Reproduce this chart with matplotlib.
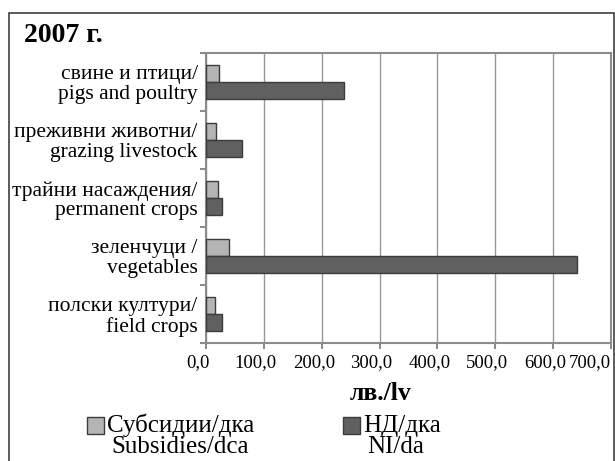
import matplotlib.pyplot as plt
from matplotlib.patches import Rectangle
from matplotlib.transforms import ScaledTranslation
import numpy as np

plt.rcParams['font.family'] = ['Liberation Serif', 'DejaVu Serif']

# categories listed bottom to top
categories = ["полски култури/\nfield crops",
              "зеленчуци /\nvegetables",
              "трайни насаждения/\npermanent crops",
              "преживни животни/\ngrazing livestock",
              "свине и птици/\npigs and poultry"]
subsidies = [16, 40, 21, 18, 22]
net_income = [27, 642, 27, 63, 239]
xticks = [0, 100, 200, 300, 400, 500, 600, 700]
xtick_labels = ["0,0", "100,0", "200,0", "300,0", "400,0", "500,0", "600,0", "700,0"]
legend_labels = [("Субсидии/дка", "Subsidies/dca"), ("НД/дка", "NI/da")]

W, H = 615, 461
fig = plt.figure(figsize=(W / 100, H / 100), dpi=100)
ax = fig.add_axes([206 / W, 1 - 343 / H, (611 - 206) / W, (343 - 53) / H])

light = "#b4b4b4"
dark = "#606060"
edge = "#3c3c3c"

y = np.arange(len(categories))
h = 0.29
ax.barh(y + h / 2, subsidies, height=h, color=light, edgecolor=edge, linewidth=1, zorder=3)
ax.barh(y - h / 2, net_income, height=h, color=dark, edgecolor=edge, linewidth=1, zorder=3)

ax.set_xlim(0, 700)
ax.set_ylim(-0.5, len(categories) - 0.5)
ax.set_xticks(xticks)
ax.set_xticklabels(xtick_labels, fontsize=13.5)
ax.set_yticks(y)
ax.set_yticklabels(categories, fontsize=15.5, linespacing=1.05)
ax.set_yticks(np.arange(-0.5, len(categories)), minor=True)
ax.tick_params(axis='y', which='major', length=0, pad=6)
ax.tick_params(axis='y', which='minor', length=4, color="#8c8c8c", width=1.5, direction='out')
ax.tick_params(axis='x', length=4, color="#8c8c8c", width=1.5, direction='out', pad=4)
ax.grid(axis='x', color="#999999", linewidth=1, zorder=0)
for s in ax.spines.values():
    s.set_color("#8c8c8c")
    s.set_linewidth(1.5)

# tick labels sit a little left of their ticks; last one kept inside
shift = ScaledTranslation(-8 / 100, 0, fig.dpi_scale_trans)
labels = ax.get_xticklabels()
for lab in labels[:-1]:
    lab.set_transform(lab.get_transform() + shift)
labels[-1].set_ha('right')

ax.set_xlabel("лв./lv", fontsize=18.5, fontweight='bold')
ax.xaxis.set_label_coords(0.432, -0.135)
ax.xaxis.label.set_va('top')

fig.text(24 / W, 1 - 42 / H, "2007 г.", fontsize=20, fontweight='bold', va='baseline')

# outer frame
fig.patches.append(Rectangle((9 / W, -0.05), (614 - 9) / W, 0.05 + 1 - 13 / H,
                             transform=fig.transFigure, fill=False,
                             edgecolor="#404040", linewidth=1.2))

# legend
for (x0, tx), color, (l1, l2) in zip([(87, 107), (343, 363)], [light, dark], legend_labels):
    fig.patches.append(Rectangle((x0 / W, 1 - 434 / H), 17 / W, 17 / H,
                                 transform=fig.transFigure, facecolor=color,
                                 edgecolor=edge, linewidth=1))
    fig.text(tx / W, 1 - 432 / H, l1, fontsize=18, va='baseline')
    fig.text((tx + 4) / W, 1 - 453 / H, l2, fontsize=18, va='baseline')

fig.savefig("out.png", dpi=100)
